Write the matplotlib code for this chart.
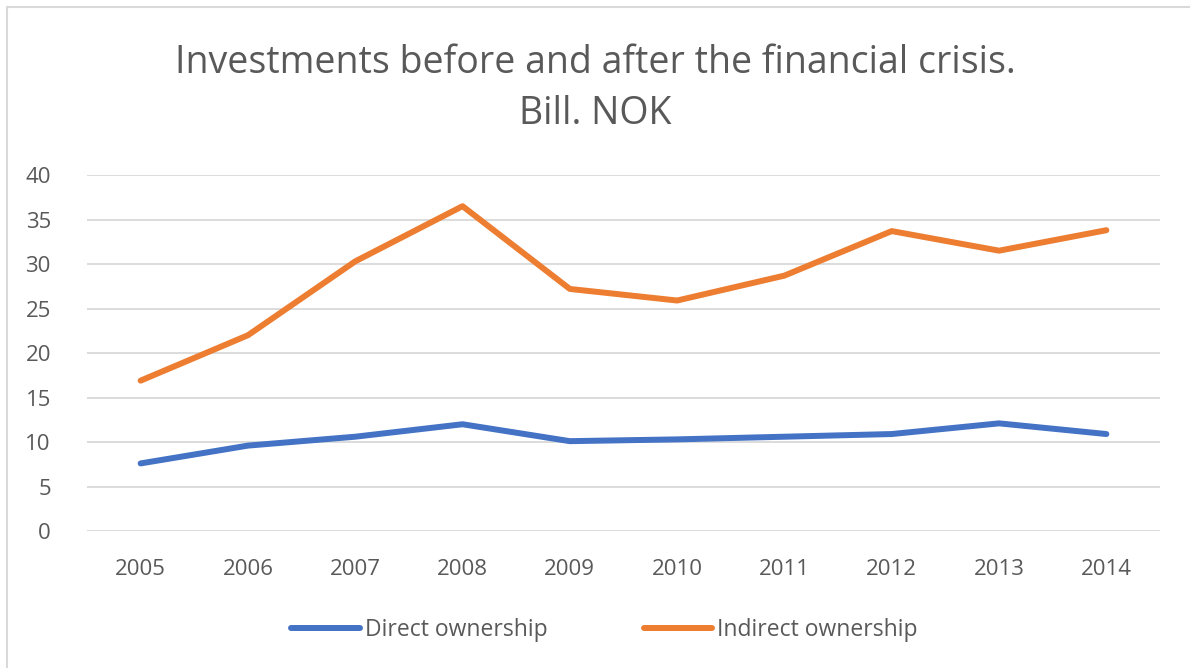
#Line chart of direct and indirect investments 2005-2014
import matplotlib
matplotlib.use('Agg')
import matplotlib.pyplot as plt
from matplotlib.patches import Rectangle

years = ['2005', '2006', '2007', '2008', '2009', '2010', '2011', '2012', '2013', '2014']
direct = [7.6, 9.6, 10.6, 12.0, 10.1, 10.3, 10.6, 10.9, 12.1, 10.9]
indirect = [16.9, 22.0, 30.3, 36.5, 27.2, 25.9, 28.7, 33.7, 31.5, 33.8]
y_ticks = [0, 5, 10, 15, 20, 25, 30, 35, 40]

plt.rcParams['font.family'] = ['Open Sans', 'DejaVu Sans']
grey = '#595959'

fig = plt.figure(figsize=(11.9, 6.68), dpi=100)
ax = fig.add_axes([0.0731, 0.205, 0.9017, 0.533])

x = range(len(years))
ax.plot(x, direct, color='#4472c4', linewidth=4.3, solid_capstyle='round', label='Direct ownership')
ax.plot(x, indirect, color='#ed7d31', linewidth=4.3, solid_capstyle='round', label='Indirect ownership')

ax.set_xlim(-0.5, len(years) - 0.5)
ax.set_ylim(0, 40)
ax.set_yticks(y_ticks)
ax.set_xticks(list(x))
ax.set_xticklabels(years)
ax.tick_params(length=0, labelsize=16, labelcolor=grey)
ax.tick_params(axis='x', pad=20)
ax.tick_params(axis='y', pad=26)
ax.grid(axis='y', color='#d9d9d9', linewidth=1.3)
ax.set_axisbelow(True)
for s in ax.spines.values():
    s.set_visible(False)

fig.text(0.5, 0.905, 'Investments before and after the financial crisis.', ha='center', va='center',
         fontsize=27, color=grey)
fig.text(0.5, 0.83, 'Bill. NOK', ha='center', va='center', fontsize=27, color=grey)

fig.legend(loc='center', bbox_to_anchor=(0.508, 0.057), ncol=2, frameon=False, fontsize=16.5,
           labelcolor=grey, handlelength=3.0, handletextpad=0.2, columnspacing=4.2)

#light border round the chart
fig.add_artist(Rectangle((0.006, -0.01), 1.1, 0.999, transform=fig.transFigure, fill=False,
                         edgecolor='#d9d9d9', linewidth=1.5))

fig.savefig('out.png', dpi=100)
